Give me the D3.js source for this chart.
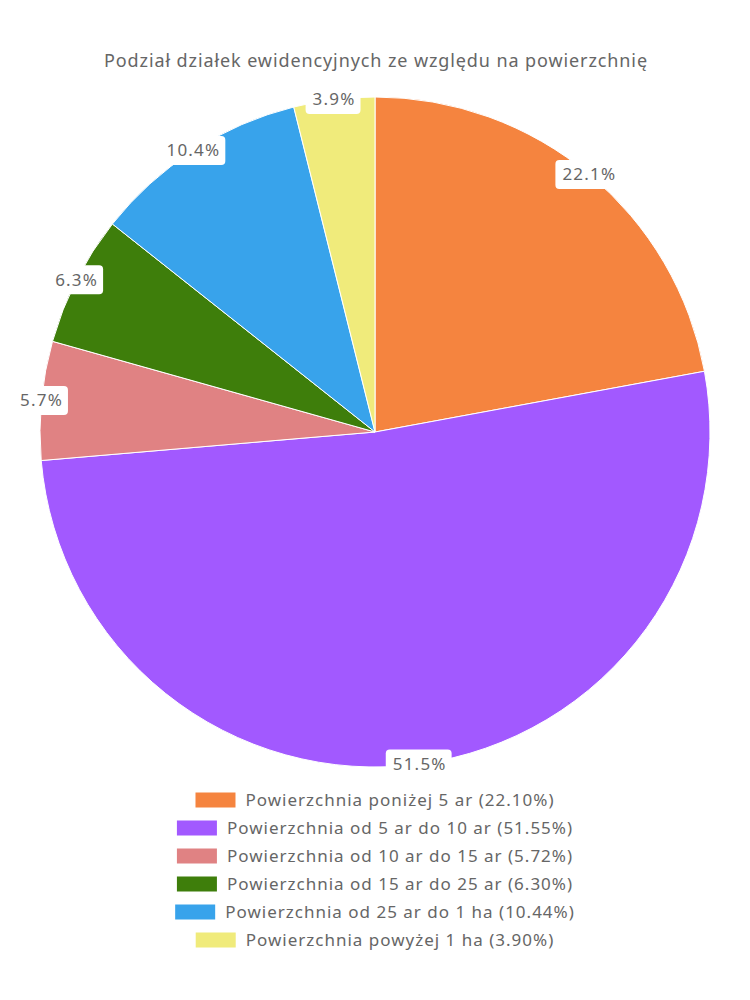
<!DOCTYPE html>
<html><head><meta charset="utf-8">
<script src="https://cdn.jsdelivr.net/npm/d3@7"></script>
<style>body{margin:0;background:#fff}svg{display:block}</style>
</head><body>
<svg id="c" width="750" height="1000"></svg>
<script>
const categories = ["Powierzchnia poniżej 5 ar","Powierzchnia od 5 ar do 10 ar","Powierzchnia od 10 ar do 15 ar","Powierzchnia od 15 ar do 25 ar","Powierzchnia od 25 ar do 1 ha","Powierzchnia powyżej 1 ha"];
const values = [22.10, 51.55, 5.72, 6.30, 10.44, 3.90];
const sliceLabels = ["22.1%","51.5%","5.7%","6.3%","10.4%","3.9%"];
const colors = ["#F5843F","#A259FF","#E08283","#3E7E0B","#38A3EB","#F0EB7B"];
const title = "Podział działek ewidencyjnych ze względu na powierzchnię";

const FONT = "'Noto Sans', sans-serif";
const svg = d3.select("#c");
const cx = 375, cy = 432, R = 335;

svg.append("text").attr("x", 376).attr("y", 67).attr("text-anchor","middle")
  .attr("font-family", FONT).attr("font-size", 18).attr("fill","#666")
  .attr("letter-spacing", 0.9).text(title);

const pie = d3.pie().sort(null).value(d => d)(values);
const arc = d3.arc().innerRadius(0).outerRadius(R);
const g = svg.append("g").attr("transform", `translate(${cx},${cy})`);
g.selectAll("path").data(pie).join("path")
  .attr("d", arc).attr("fill", (d,i) => colors[i])
  .attr("stroke","#fff").attr("stroke-width",1);

const lab = g.selectAll("g.lab").data(pie).join("g").attr("class","lab")
  .attr("transform", d => {
    const a = (d.startAngle + d.endAngle)/2;
    return `translate(${R*Math.sin(a)},${-R*Math.cos(a)})`;
  });
lab.each(function(d,i){
  const s = d3.select(this);
  const r = s.append("rect").attr("fill","#fff").attr("rx",4);
  const t = s.append("text").attr("text-anchor","middle").attr("dy","0.35em")
    .attr("font-family",FONT).attr("font-size",17).attr("letter-spacing",1.2)
    .attr("fill","#666").text(sliceLabels[i]);
  const w = t.node().getComputedTextLength();
  r.attr("x", -w/2-7).attr("y", -14.5).attr("width", w+12).attr("height", 29);
});

const legY0 = 800, legStep = 28;
const leg = svg.append("g");
categories.forEach((c,i) => {
  const row = leg.append("g");
  const txt = row.append("text").attr("y", legY0 + i*legStep).attr("dy","0.35em")
    .attr("font-family",FONT).attr("font-size",17).attr("fill","#666").attr("letter-spacing",1.0)
    .text(`${c} (${values[i].toFixed(2)}%)`);
  const w = txt.node().getComputedTextLength();
  const total = 40 + 10 + w;
  const x0 = 375 - total/2;
  row.insert("rect","text").attr("x", x0).attr("y", legY0 + i*legStep - 7.5)
    .attr("width",40).attr("height",15).attr("fill",colors[i]);
  txt.attr("x", x0 + 50);
});
</script>
</body></html>
